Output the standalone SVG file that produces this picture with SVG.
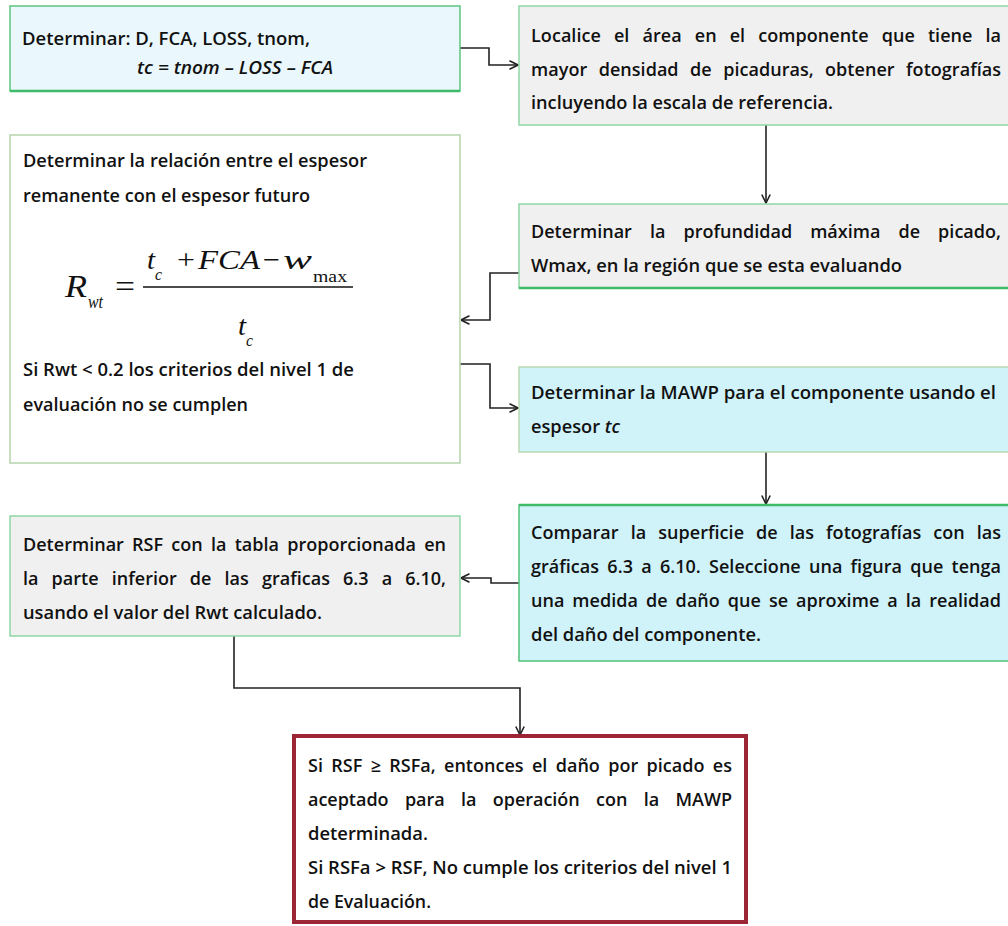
<svg xmlns="http://www.w3.org/2000/svg" width="1008" height="926" viewBox="0 0 1008 926">
<style>
.t{font-family:"Open Sans","Liberation Sans",sans-serif;font-size:18px;font-weight:600;fill:#111}
.it{font-style:italic}
.m{font-family:"Liberation Serif","Times New Roman",serif;font-style:italic;fill:#111}
.up{font-style:normal}
.c{fill:none;stroke:#222;stroke-width:1.6}
.g{stroke:#3dbb68;stroke-width:2.5}
</style>
<defs>
<marker id="ah" viewBox="0 0 10 10" refX="9.5" refY="5" markerWidth="10" markerHeight="10" markerUnits="userSpaceOnUse" orient="auto">
<path d="M1,0.8 L9.5,5 L1,9.2" fill="none" stroke="#222" stroke-width="1.6"/>
</marker>
</defs>
<rect width="1008" height="926" fill="#fff"/>

<g id="connectors">
<path class="c" d="M460,48 H489 V65 H518" marker-end="url(#ah)"/>
<path class="c" d="M766,125 V203" marker-end="url(#ah)"/>
<path class="c" d="M519,273 H490 V320 H461" marker-end="url(#ah)"/>
<path class="c" d="M460,364 H490 V408 H518" marker-end="url(#ah)"/>
<path class="c" d="M766,452 V504" marker-end="url(#ah)"/>
<path class="c" d="M519,583 H491 V578 H461" marker-end="url(#ah)"/>
<path class="c" d="M234,636 V688 H520 V735" marker-end="url(#ah)"/>
</g>

<g id="n1">
<rect x="10" y="6" width="450" height="85" fill="#eaf8fd" stroke="#5cc47e" stroke-width="1.5"/>
<line class="g" x1="10" y1="91" x2="460" y2="91"/>
<text class="t" x="22" y="45" textLength="288" lengthAdjust="spacingAndGlyphs">Determinar: D, FCA, LOSS, tnom,</text>
<text class="t it" x="137" y="74" textLength="196" lengthAdjust="spacingAndGlyphs">tc = tnom – LOSS – FCA</text>
</g>

<g id="n2">
<rect x="519" y="6" width="495" height="119" fill="#f0f0f0" stroke="#8ed8a4" stroke-width="1.5"/>
<text class="t" x="531" y="42" word-spacing="8.3" textLength="470" lengthAdjust="spacing">Localice el área en el componente que tiene la</text>
<text class="t" x="531" y="76" word-spacing="6.7" textLength="470" lengthAdjust="spacing">mayor densidad de picaduras, obtener fotografías</text>
<text class="t" x="531" y="109" textLength="302" lengthAdjust="spacingAndGlyphs">incluyendo la escala de referencia.</text>
</g>

<g id="n3">
<rect x="10" y="135" width="450" height="328" fill="#fff" stroke="#b5d4ad" stroke-width="1.5"/>
<text class="t" x="23" y="167" textLength="344" lengthAdjust="spacingAndGlyphs">Determinar la relación entre el espesor</text>
<text class="t" x="23" y="202" textLength="287" lengthAdjust="spacingAndGlyphs">remanente con el espesor futuro</text>
<text class="m" x="65" y="297" font-size="32" textLength="22" lengthAdjust="spacingAndGlyphs">R</text>
<text class="m" x="88" y="308" font-size="18" textLength="15" lengthAdjust="spacingAndGlyphs">wt</text>
<text class="m up" x="115" y="297" font-size="31" textLength="20" lengthAdjust="spacingAndGlyphs">=</text>
<line x1="143" y1="287" x2="353" y2="287" stroke="#111" stroke-width="1.5"/>
<text class="m" x="147" y="269" font-size="28" textLength="8" lengthAdjust="spacingAndGlyphs">t</text>
<text class="m" x="155" y="280" font-size="16" textLength="7" lengthAdjust="spacingAndGlyphs">c</text>
<text class="m up" x="177" y="269" font-size="28" textLength="18" lengthAdjust="spacingAndGlyphs">+</text>
<text class="m" x="198" y="269" font-size="28" textLength="62" lengthAdjust="spacingAndGlyphs">FCA</text>
<text class="m up" x="263" y="269" font-size="28" textLength="17" lengthAdjust="spacingAndGlyphs">−</text>
<text class="m" x="283" y="269" font-size="28" textLength="29" lengthAdjust="spacingAndGlyphs">w</text>
<text class="m up" x="313" y="282" font-size="16" textLength="34" lengthAdjust="spacingAndGlyphs">max</text>
<text class="m" x="238" y="335" font-size="28" textLength="8" lengthAdjust="spacingAndGlyphs">t</text>
<text class="m" x="246" y="346" font-size="16" textLength="7" lengthAdjust="spacingAndGlyphs">c</text>
<text class="t" x="23" y="376" textLength="331" lengthAdjust="spacingAndGlyphs">Si Rwt &lt; 0.2 los criterios del nivel 1 de</text>
<text class="t" x="23" y="411" textLength="225" lengthAdjust="spacingAndGlyphs">evaluación no se cumplen</text>
</g>

<g id="n4">
<rect x="519" y="204" width="495" height="84" fill="#f0f0f0" stroke="#8ed8a4" stroke-width="1.5"/>
<line class="g" x1="519" y1="288" x2="1014" y2="288"/>
<text class="t" x="531" y="238" word-spacing="13.3" textLength="470" lengthAdjust="spacing">Determinar la profundidad máxima de picado,</text>
<text class="t" x="531" y="272" textLength="371" lengthAdjust="spacingAndGlyphs">Wmax, en la región que se esta evaluando</text>
</g>

<g id="n5">
<rect x="519" y="367" width="495" height="85" fill="#d0f2f9" stroke="#b9d8b3" stroke-width="1.5"/>
<text class="t" x="531" y="399" textLength="465" lengthAdjust="spacingAndGlyphs">Determinar la MAWP para el componente usando el</text>
<text class="t" x="531" y="433" textLength="89" lengthAdjust="spacingAndGlyphs">espesor <tspan class="it">tc</tspan></text>
</g>

<g id="n6">
<rect x="519" y="505" width="495" height="156" fill="#d0f2f9" stroke="#4fc27a" stroke-width="1.5"/>
<line class="g" x1="519" y1="505" x2="1014" y2="505"/>
<text class="t" x="531" y="539" word-spacing="7.2" textLength="470" lengthAdjust="spacing">Comparar la superficie de las fotografías con las</text>
<text class="t" x="531" y="573" word-spacing="3.5" textLength="470" lengthAdjust="spacing">gráficas 6.3 a 6.10. Seleccione una figura que tenga</text>
<text class="t" x="531" y="607" word-spacing="3.2" textLength="470" lengthAdjust="spacing">una medida de daño que se aproxime a la realidad</text>
<text class="t" x="531" y="641" textLength="230" lengthAdjust="spacingAndGlyphs">del daño del componente.</text>
</g>

<g id="n7">
<rect x="10" y="516" width="450" height="120" fill="#f0f0f0" stroke="#8ed8a4" stroke-width="1.5"/>
<text class="t" x="23" y="551" word-spacing="3.5" textLength="423" lengthAdjust="spacing">Determinar RSF con la tabla proporcionada en</text>
<text class="t" x="23" y="585" word-spacing="8.3" textLength="423" lengthAdjust="spacing">la parte inferior de las graficas 6.3 a 6.10,</text>
<text class="t" x="23" y="619" textLength="299" lengthAdjust="spacingAndGlyphs">usando el valor del Rwt calculado.</text>
</g>

<g id="n8">
<rect x="294" y="736" width="452" height="186" fill="#fff" stroke="#9c2636" stroke-width="4"/>
<text class="t" x="308" y="772" word-spacing="3.6" textLength="424" lengthAdjust="spacing">Si RSF ≥ RSFa, entonces el daño por picado es</text>
<text class="t" x="308" y="806" word-spacing="11.7" textLength="424" lengthAdjust="spacing">aceptado para la operación con la MAWP</text>
<text class="t" x="308" y="840" textLength="120" lengthAdjust="spacingAndGlyphs">determinada.</text>
<text class="t" x="308" y="874" textLength="424" lengthAdjust="spacingAndGlyphs">Si RSFa &gt; RSF, No cumple los criterios del nivel 1</text>
<text class="t" x="308" y="908" textLength="123" lengthAdjust="spacingAndGlyphs">de Evaluación.</text>
</g>
</svg>
